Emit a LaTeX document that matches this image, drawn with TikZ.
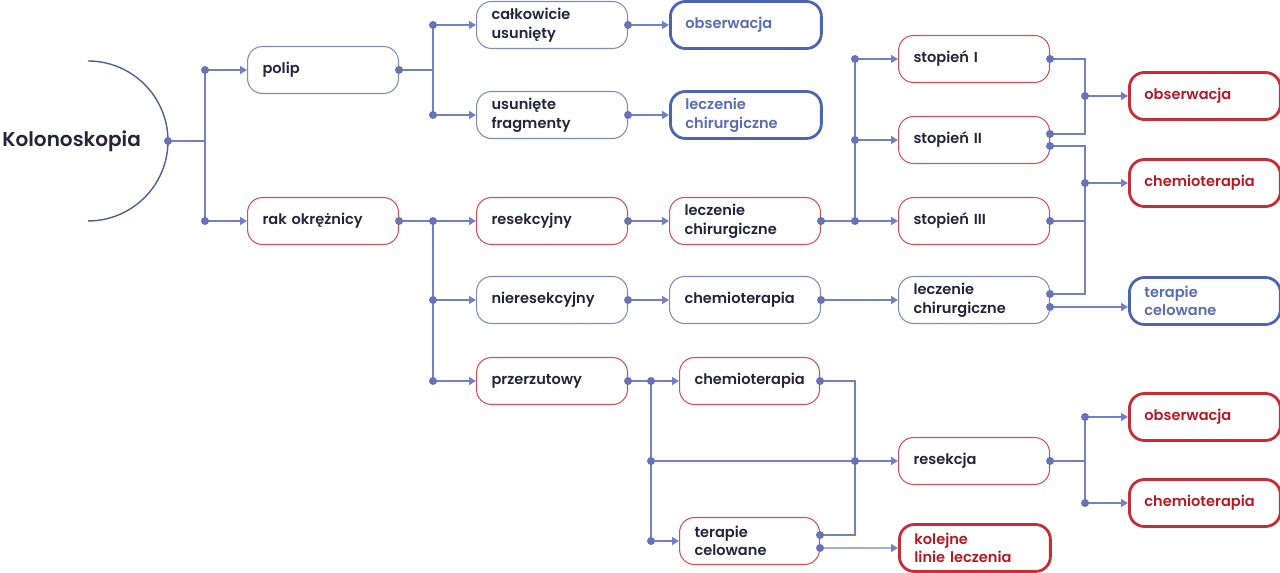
\documentclass[tikz,border=0pt]{standalone}
\usepackage{fontspec}
\setmainfont{Poppins}[BoldFont={Poppins SemiBold}]
\usepackage{tikz}
\usetikzlibrary{arrows.meta}
\usetikzlibrary{calc}

\definecolor{linec}{RGB}{114,128,196}
\definecolor{arcc}{RGB}{84,94,150}
\definecolor{dotc}{RGB}{102,116,182}
\definecolor{bluethin}{RGB}{128,138,190}
\definecolor{redthin}{RGB}{214,78,90}
\definecolor{bluethick}{RGB}{76,100,180}
\definecolor{bluetext}{RGB}{88,108,184}
\definecolor{redthick}{RGB}{200,44,54}
\definecolor{redtext}{RGB}{184,26,36}
\definecolor{txtdark}{RGB}{36,36,62}

\begin{document}
\begin{tikzpicture}[
  x=0.02cm, y=-0.02cm,
  box/.style={draw, rectangle, rounded corners=0.3cm, minimum height=0.94cm,
    text width=2.42cm, inner xsep=0.3cm, align=left, text=txtdark,
    font=\fontsize{8.3pt}{10.6pt}\selectfont\bfseries},
  narrow/.style={text width=2.2cm},
  bluebox/.style={box, draw=bluethin, line width=0.6pt},
  redbox/.style={box, draw=redthin, line width=0.6pt},
  blueend/.style={box, draw=bluethick, line width=1.6pt, text=bluetext},
  redend/.style={box, draw=redthick, line width=1.6pt, text=redtext},
  line/.style={draw=linec, line width=0.8pt},
  arr/.style={line, -{Triangle[length=0.14cm,width=0.16cm]}},
  dot/.style={fill=dotc},
]
\useasboundingbox (0,0) rectangle (1280,573);

\node (kol) [anchor=west, inner sep=0pt, text=txtdark,
  font=\fontsize{11.4pt}{13pt}\selectfont\bfseries] at (2,141) {Kolonoskopia};
\draw[draw=arcc, line width=0.8pt] (88,61) arc[start angle=90, end angle=-90, radius=1.6cm];
\coordinate (kroot) at (168,141);

\node (polip)   [bluebox, anchor=west] at (247,70)  {polip};
\node (rak)     [redbox,  anchor=west] at (247,221) {rak okrężnicy};

\node (calk)    [bluebox, anchor=west] at (476,25)  {całkowicie\\usunięty};
\node (frag)    [bluebox, anchor=west] at (476,115) {usunięte\\fragmenty};
\node (obs1)    [blueend, anchor=west] at (669,25)  {obserwacja};
\node (lecz1)   [blueend, anchor=west] at (669,115) {leczenie\\chirurgiczne};

\node (resek)   [redbox,  anchor=west] at (476,221) {resekcyjny};
\node (nieres)  [bluebox, anchor=west] at (476,300) {nieresekcyjny};
\node (przerz)  [redbox,  anchor=west] at (476,381) {przerzutowy};

\node (lecz2)   [redbox,  anchor=west] at (669,221) {leczenie\\chirurgiczne};
\node (chemio1) [bluebox, anchor=west] at (669,300) {chemioterapia};
\node (chemio3) [redbox, narrow, anchor=west] at (679,381) {chemioterapia};
\node (terap2)  [redbox, narrow, anchor=west] at (679,541) {terapie\\celowane};

\node (st1)     [redbox,  anchor=west] at (898,59)  {stopień I};
\node (st2)     [redbox,  anchor=west] at (898,140) {stopień II};
\node (st3)     [redbox,  anchor=west] at (898,221) {stopień III};
\node (lecz3)   [bluebox, anchor=west] at (898,300) {leczenie\\chirurgiczne};
\node (resekcja)[redbox,  anchor=west] at (898,461) {resekcja};
\node (kolejne) [redend,  anchor=west] at (898,548) {kolejne\\linie leczenia};

\node (obs2)    [redend,  anchor=west] at (1128,96)  {obserwacja};
\node (chemio2) [redend,  anchor=west] at (1128,183) {chemioterapia};
\node (terap1)  [blueend, anchor=west] at (1128,301) {terapie\\celowane};
\node (obs3)    [redend,  anchor=west] at (1128,417) {obserwacja};
\node (chemio4) [redend,  anchor=west] at (1128,503) {chemioterapia};

\coordinate (j0a) at (205,70);
\coordinate (j0b) at (205,221);
\coordinate (j1a) at (433,25);
\coordinate (j1b) at (433,115);
\coordinate (j2a) at (433,221);
\coordinate (j2b) at (433,300);
\coordinate (j2c) at (433,381);
\coordinate (j3a) at (855,221);
\coordinate (j3b) at (855,140);
\coordinate (j3c) at (855,59);
\coordinate (j4) at (1085,96);
\coordinate (j5) at (1085,183);
\coordinate (j6a) at (651,381);
\coordinate (j6b) at (651,461);
\coordinate (j6c) at (651,541);
\coordinate (j7) at (855,461);
\coordinate (j8a) at (1085,417);
\coordinate (j8b) at (1085,503);
\coordinate (st2up) at ([yshift=0.12cm]st2.east);
\coordinate (st2dn) at ([yshift=-0.12cm]st2.east);
\coordinate (lecz3up) at ([yshift=0.12cm]lecz3.east);
\coordinate (lecz3dn) at ([yshift=-0.14cm]lecz3.east);
\coordinate (terap2up) at ([yshift=0.12cm]terap2.east);
\coordinate (terap2dn) at ([yshift=-0.14cm]terap2.east);

\draw[line] (kroot) -- (kroot -| j0a);
\draw[line] (j0a) -- (j0b);
\draw[arr] (j0a) -- (polip.west);
\draw[arr] (j0b) -- (rak.west);

\draw[line] (polip.east) -- (polip.east -| j1a);
\draw[line] (j1a) -- (j1b);
\draw[arr] (j1a) -- (calk.west);
\draw[arr] (j1b) -- (frag.west);
\draw[arr] (calk.east) -- (obs1.west);
\draw[arr] (frag.east) -- (lecz1.west);

\draw[line] (rak.east) -- (j2a);
\draw[line] (j2a) -- (j2c);
\draw[arr] (j2a) -- (resek.west);
\draw[arr] (j2b) -- (nieres.west);
\draw[arr] (j2c) -- (przerz.west);

\draw[arr] (resek.east) -- (lecz2.west);
\draw[line] (lecz2.east) -- (j3a);
\draw[line] (j3a) -- (j3c);
\draw[arr] (j3c) -- (st1.west);
\draw[arr] (j3b) -- (st2.west);
\draw[arr] (j3a) -- (st3.west);

\draw[arr] (nieres.east) -- (chemio1.west);
\draw[arr] (chemio1.east) -- (lecz3.west);

\draw[line] (st1.east) -| (j4) |- (st2up);
\draw[arr] (j4) -- (obs2.west);
\draw[line] (st2dn) -| (j5) |- (lecz3up);
\draw[line] (st3.east) -- (st3.east -| j5);
\draw[arr] (j5) -- (chemio2.west);
\draw[arr] (lecz3dn) -- (lecz3dn -| terap1.west);

\draw[line] (przerz.east) -- (j6a);
\draw[line] (j6a) -- (j6c);
\draw[arr] (j6a) -- (chemio3.west);
\draw[arr] (j6c) -- (terap2.west);
\draw[line] (j6b) -- (j7);
\draw[arr] (j7) -- (resekcja.west);
\draw[line] (chemio3.east) -| (j7) |- (terap2up);
\draw[arr] (terap2dn) -- (kolejne.west);

\draw[line] (resekcja.east) -- (resekcja.east -| j8a);
\draw[line] (j8a) -- (j8b);
\draw[arr] (j8a) -- (obs3.west);
\draw[arr] (j8b) -- (chemio4.west);

\foreach \p in {kroot, j0a, j0b, polip.east, j1a, j1b, calk.east, frag.east,
  rak.east, j2a, j2b, j2c, resek.east, lecz2.east, j3a, j3b, j3c,
  nieres.east, chemio1.east, st1.east, st2up, st2dn, st3.east, lecz3up, lecz3dn,
  j4, j5, przerz.east, j6a, j6b, j6c, j7, chemio3.east, terap2up, terap2dn,
  resekcja.east, j8a, j8b}
  \fill[dot] (\p) circle (0.08cm);
\end{tikzpicture}
\end{document}
